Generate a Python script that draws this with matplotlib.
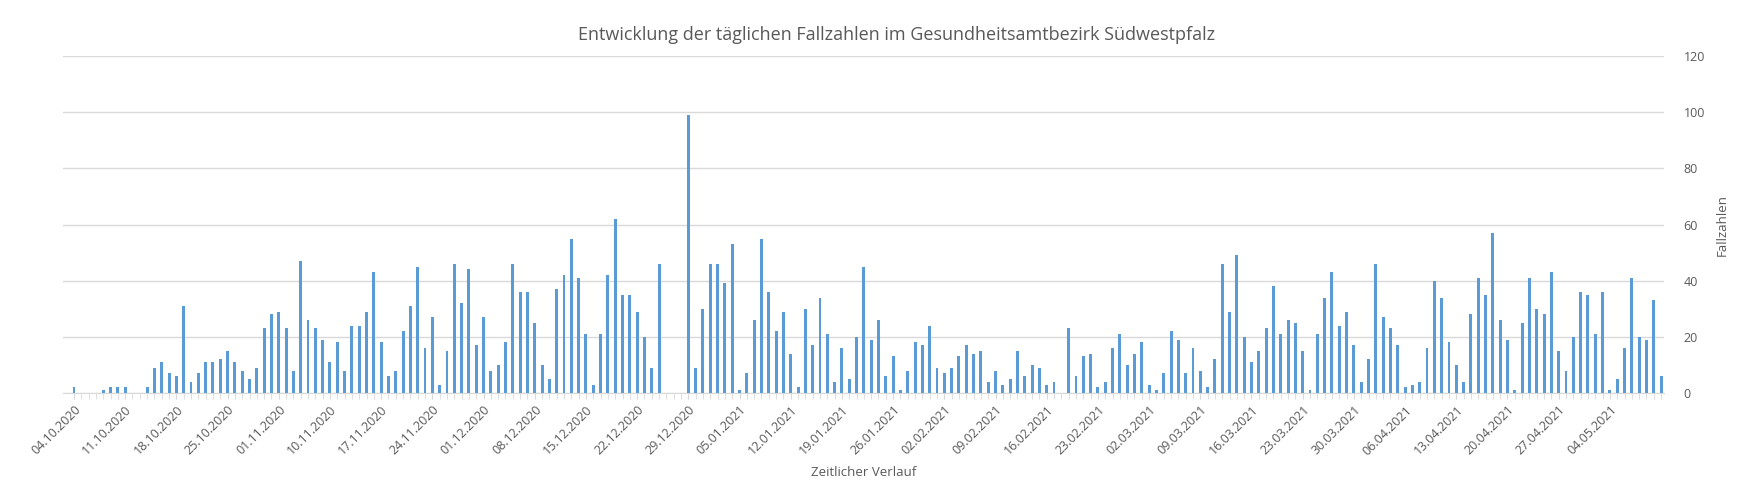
import matplotlib
matplotlib.use("Agg")
import matplotlib.pyplot as plt
import numpy as np

values = [2,0,0,0,1,2,2,2,0,0,2,9,11,7,6,31,4,7,11,11,12,15,11,8,5,9,23,28,29,23,8,47,26,23,19,11,18,8,24,24,29,43,18,6,8,22,31,45,16,27,3,15,46,32,44,17,
          27,8,10,18,46,36,36,25,10,5,37,42,55,41,21,3,21,42,62,35,35,29,20,9,46,0,0,0,99,9,30,46,46,39,53,1,7,26,55,36,22,29,14,2,30,17,34,21,4,16,5,20,45,19,26,6,13,
          1,8,18,17,24,9,7,9,13,17,14,15,4,8,3,5,15,6,10,9,3,4,0,23,6,13,14,2,4,16,21,10,14,18,3,1,7,22,19,7,16,8,2,12,46,29,49,20,11,15,23,38,21,26,25,15,1,
          21,34,43,24,29,17,4,12,46,27,23,17,2,3,4,16,40,34,18,10,4,28,41,35,57,26,19,1,25,41,30,28,43,15,8,20,36,35,21,36,1,5,16,41,20,19,33,6]
tick_labels = ["04.10.2020","11.10.2020","18.10.2020","25.10.2020","01.11.2020","10.11.2020","17.11.2020",
               "24.11.2020","01.12.2020","08.12.2020","15.12.2020","22.12.2020","29.12.2020","05.01.2021",
               "12.01.2021","19.01.2021","26.01.2021","02.02.2021","09.02.2021","16.02.2021","23.02.2021",
               "02.03.2021","09.03.2021","16.03.2021","23.03.2021","30.03.2021","06.04.2021","13.04.2021",
               "20.04.2021","27.04.2021","04.05.2021"]

plt.rcParams['font.family'] = ['Open Sans', 'DejaVu Sans']
txt = '#595959'
fig = plt.figure(figsize=(17.4, 5.01), dpi=100)
ax = fig.add_axes([63/1740, 1-393/501, (1664-63)/1740, (393-56)/501])
x = np.arange(len(values))
ax.bar(x, values, width=0.4, color='#5B9BD5', zorder=3)
ax.set_xlim(-1.5, len(values) - 0.6)
ax.set_ylim(0, 120)
ax.set_yticks(range(0, 121, 20))
ax.yaxis.tick_right()
ax.yaxis.set_label_position('right')
ax.grid(axis='y', color='#D9D9D9', linewidth=1, zorder=0)
for s in ['top', 'left', 'right']:
    ax.spines[s].set_visible(False)
ax.spines['bottom'].set_color('#D9D9D9')
ax.set_xticks(np.arange(0, len(values), 7)[:len(tick_labels)])
ax.set_xticklabels(tick_labels, rotation=45, ha='right', rotation_mode='anchor', fontsize=9, color=txt)
ax.set_xticks(x, minor=True)
ax.tick_params(axis='x', which='both', length=4, color='#D9D9D9')
ax.tick_params(axis='y', length=0, labelsize=9, labelcolor=txt, pad=14)
ax.set_ylabel('Fallzahlen', fontsize=9.5, color=txt, labelpad=8)
ax.set_xlabel('Zeitlicher Verlauf', fontsize=9.5, color=txt, labelpad=6)
fig.text(0.515, 0.93, 'Entwicklung der täglichen Fallzahlen im Gesundheitsamtbezirk Südwestpfalz',
         ha='center', va='center', fontsize=13, color=txt)
fig.savefig('out.png', dpi=100)
